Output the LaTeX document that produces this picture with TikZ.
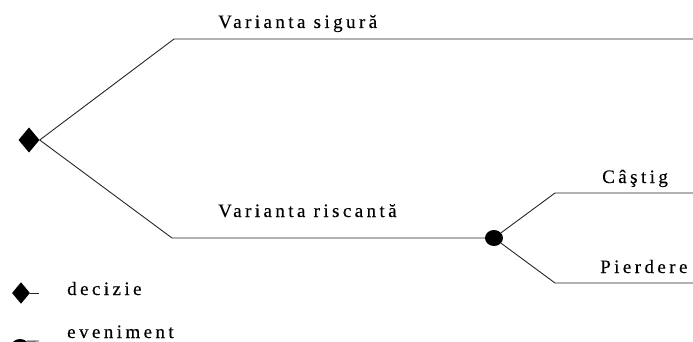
\documentclass[tikz,border=0pt]{standalone}
\usepackage{fontspec}
\setmainfont{Liberation Serif}
\newfontfamily\wide[LetterSpace=18,FakeBold=0.3]{Liberation Serif}
\usetikzlibrary{shapes.geometric}
\tikzset{
  branch/.style={draw=black!85, line width=0.9pt},
  decnode/.style={diamond, fill=black, inner sep=0pt, minimum width=#1, minimum height=#1*1.2},
  evnode/.style={ellipse, fill=black, inner sep=0pt, minimum width=18pt, minimum height=16pt},
  lbl/.style={anchor=base west, inner sep=0pt, font=\wide\fontsize{19}{22}\selectfont},
}
\begin{document}
\begin{tikzpicture}[x=1pt, y=-1pt]
\useasboundingbox (0,0) rectangle (693,342);
% decision node and its two variants
\node[decnode=21pt] (dec) at (29,140) {};
\coordinate (k1) at (174,39);
\coordinate (e1) at (693,39);
\coordinate (k2) at (172,238);
\node[evnode] (ev) at (494,238) {};
\coordinate (k3) at (555,193);
\coordinate (e3) at (693,193);
\coordinate (k4) at (555,283);
\coordinate (e4) at (693,283);
\draw[branch] (dec.east) -- (k1) -- (e1);
\draw[branch] (dec.east) -- (k2) -- (ev);
\draw[branch] (ev) -- (k3) -- (e3);
\draw[branch] (ev) -- (k4) -- (e4);
\node[lbl] (t1) at (218,28) {Varianta sigură};
\node[lbl] (t2) at (218,217) {Varianta riscantă};
\node[lbl] (t3) at (602,183) {Câştig};
\node[lbl] (t4) at (600,273) {Pierdere};
% legend
\node[decnode=18pt] (ld) at (21,293) {};
\coordinate (ldt) at (39,293);
\draw[branch] (ld) -- (ldt);
\node[lbl] (l1) at (67,295) {decizie};
\node[evnode] (le) at (20,347) {};
\coordinate (let) at (39,341);
\draw[branch] (le.north east) -- (let);
\node[lbl] (l2) at (67,338) {eveniment};
\end{tikzpicture}
\end{document}
